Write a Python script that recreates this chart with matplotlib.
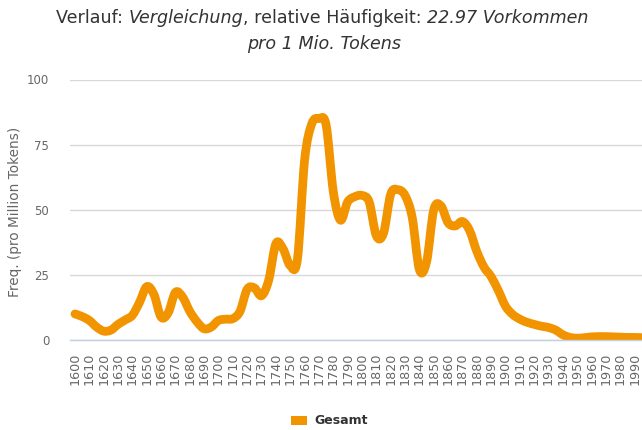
import matplotlib
matplotlib.use("Agg")
import matplotlib.pyplot as plt
from matplotlib.path import Path
from matplotlib.patches import PathPatch, Rectangle
import numpy as np

years = list(range(1600, 2000, 5))
values = [10, 9, 7.5, 5, 3.4, 3.8, 6, 7.7, 9.5, 14.5,
          20.5, 17.5, 8.8, 10.5, 18.3, 16.5, 11, 7, 4.3, 5,
          7.5, 8, 8.2, 11, 19.5, 20, 17, 23, 37, 35,
          28.5, 31, 69, 83, 85, 82.5, 57, 46, 53, 55,
          55.5, 53, 40, 41, 56, 57.7, 55.5, 47, 27, 30,
          50, 51.5, 45, 43.8, 45.5, 42, 34, 28, 24.3, 19,
          13, 9.8, 8, 6.8, 6, 5.3, 4.8, 3.8, 2, 1,
          0.7, 0.9, 1.2, 1.3, 1.3, 1.2, 1.1, 1.0, 1.0, 0.9]
tick_years = list(range(1600, 2000, 10))
y_ticks = [0, 25, 50, 75, 100]
series_name = "Gesamt"
title_line1 = [("Verlauf: ", "normal"), ("Vergleichung", "italic"),
               (", relative Häufigkeit: ", "normal"), ("22.97 Vorkommen", "italic")]
title_line2 = "pro 1 Mio. Tokens"
y_label = "Freq. (pro Million Tokens)"

ORANGE = "#F29400"
W, H = 642, 430
fig = plt.figure(figsize=(W / 100, H / 100), dpi=100)
fig.patch.set_facecolor("white")

px_per_year = 1.435
x0 = 1600 - 5 / px_per_year
x1 = 1600 + (642 - 75) / px_per_year
ax = fig.add_axes([70 / W, (H - 340) / H, (642 - 70) / W, 260.5 / H])
ax.set_xlim(x0, x1)
ax.set_ylim(0, 100)
for s in ["top", "right", "left"]:
    ax.spines[s].set_visible(False)
ax.spines["bottom"].set_color("#C0D0E0")
ax.spines["bottom"].set_linewidth(1)
ax.set_yticks(y_ticks)
ax.set_yticklabels([str(v) for v in y_ticks], color="#666666", fontsize=8.5)
ax.tick_params(axis="y", length=0, pad=15)
ax.yaxis.grid(True, color="#D8D8D8", linewidth=1)
ax.set_axisbelow(True)
ax.set_xticks(tick_years)
ax.set_xticklabels([str(v) for v in tick_years], rotation=90, color="#666666",
                   fontsize=9.2, va="top")
ax.tick_params(axis="x", length=0, pad=9)

# smooth spline path (Catmull-Rom -> cubic Bezier) through data
pts = np.column_stack([years, values]).astype(float)
n = len(pts)
verts = [pts[0]]
codes = [Path.MOVETO]
for i in range(n - 1):
    p0 = pts[i - 1] if i > 0 else pts[i]
    p1 = pts[i]
    p2 = pts[i + 1]
    p3 = pts[i + 2] if i + 2 < n else pts[i + 1]
    c1 = p1 + (p2 - p0) / 6.0
    c2 = p2 - (p3 - p1) / 6.0
    verts += [c1, c2, p2]
    codes += [Path.CURVE4] * 3
patch = PathPatch(Path(verts, codes), facecolor="none", edgecolor=ORANGE,
                  linewidth=6.3, capstyle="round", joinstyle="round")
ax.add_patch(patch)

# y label
fig.text(15 / W, 1 - 212 / H, y_label, rotation=90, ha="center", va="center",
         color="#666666", fontsize=9.8)

# title
fig.canvas.draw()
r = fig.canvas.get_renderer()
fs = 12.6
widths = []
tmp = []
for s, st in title_line1:
    t = fig.text(0, 0, s, fontsize=fs, style=st, color="#333333")
    tmp.append(t)
    widths.append(t.get_window_extent(r).width)
total = sum(widths)
x = 322.5 - total / 2
for t, w in zip(tmp, widths):
    t.set_position((x / W, 1 - 23 / H))
    x += w
fig.text(0.5 + 3 / W, 1 - 49 / H, title_line2, fontsize=fs, style="italic",
         color="#333333", ha="center")

# legend
fig.patches.append(Rectangle((291 / W, 1 - 425 / H), 16 / W, 9 / H,
                             transform=fig.transFigure, facecolor=ORANGE,
                             edgecolor="none"))
fig.text(314 / W, 1 - 421 / H, series_name, fontsize=9, fontweight="bold",
         color="#333333", va="center")

fig.savefig("out.png", dpi=100)
